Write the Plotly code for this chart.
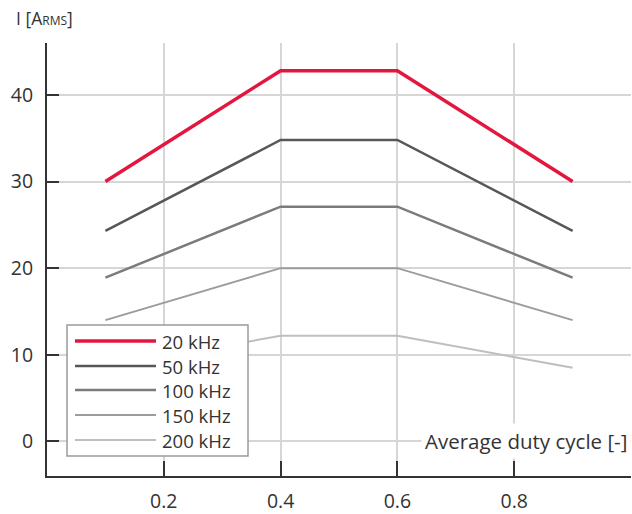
import plotly.graph_objects as go

duty = [0.1, 0.4, 0.6, 0.9]
series_names = ["20 kHz", "50 kHz", "100 kHz", "150 kHz", "200 kHz"]
i_20k = [30.0, 42.8, 42.8, 30.0]
i_50k = [24.3, 34.8, 34.8, 24.3]
i_100k = [18.9, 27.1, 27.1, 18.9]
i_150k = [14.0, 20.0, 20.0, 14.0]
i_200k = [8.5, 12.2, 12.2, 8.5]
series_values = [i_20k, i_50k, i_100k, i_150k, i_200k]
x_ticks = [0.2, 0.4, 0.6, 0.8]
y_ticks = [0, 10, 20, 30, 40]

colors = ["#e3173e", "#575757", "#7b7b7b", "#9c9c9c", "#bebebe"]
widths = [3.5, 2.5, 2.5, 2.0, 2.0]
FONT = "Open Sans"
TXT = "#333333"

W, H = 632, 514
ML, MR, MT, MB = 47, 1, 43, 38
PW, PH = W - ML - MR, H - MT - MB

def px_x(p):
    return (p - ML) / PW

def px_y(p):
    return (H - MB - p) / PH

fig = go.Figure()
for name, vals, c, w in zip(series_names, series_values, colors, widths):
    fig.add_trace(go.Scatter(x=duty, y=vals, mode="lines", name=name,
                             line=dict(color=c, width=w), showlegend=False))

shapes = []
annotations = []
# legend box
shapes.append(dict(type="rect", xref="paper", yref="paper",
                   x0=px_x(67), x1=px_x(248), y0=px_y(456), y1=px_y(325),
                   line=dict(color="#9a9a9a", width=1.5), fillcolor="white", layer="above"))
row_y = [341, 366, 390, 415, 440]
for name, c, w, ry in zip(series_names, colors, widths, row_y):
    shapes.append(dict(type="line", xref="paper", yref="paper",
                       x0=px_x(75), x1=px_x(156), y0=px_y(ry), y1=px_y(ry),
                       line=dict(color=c, width=w), layer="above"))
    annotations.append(dict(xref="paper", yref="paper", x=px_x(160), y=px_y(ry),
                            xanchor="left", yanchor="middle", text=name, showarrow=False,
                            font=dict(family=FONT, size=18.5, color=TXT)))

annotations.append(dict(xref="paper", yref="y", x=1.0, y=0, xanchor="right", yanchor="middle",
                        text="Average duty cycle [-]", showarrow=False, bgcolor="white",
                        borderpad=3, font=dict(family=FONT, size=20.5, color=TXT)))
annotations.append(dict(xref="paper", yref="paper", x=px_x(14), y=px_y(18), xanchor="left",
                        yanchor="middle",
                        text="I [A<span style='font-size:12px'>RMS</span>]",
                        showarrow=False, font=dict(family=FONT, size=17.5, color=TXT)))

fig.update_layout(
    width=W, height=H, margin=dict(l=ML, r=MR, t=MT, b=MB),
    paper_bgcolor="white", plot_bgcolor="white",
    font=dict(family=FONT, size=19.5, color=TXT),
    shapes=shapes, annotations=annotations,
    xaxis=dict(range=[0, 1], tickvals=x_ticks, ticktext=[f"{v:.1f}" for v in x_ticks],
               showgrid=True, gridcolor="#d6d6d6", gridwidth=1.5, zeroline=False,
               showline=True, linecolor="#333333", linewidth=2,
               ticks="inside", ticklen=15, tickwidth=2, tickcolor="#333333",
               ticklabelstandoff=7, tickfont=dict(size=19.5)),
    yaxis=dict(range=[-4, 46], tickvals=y_ticks, showgrid=True, gridcolor="#d6d6d6",
               gridwidth=1.5, zeroline=False, showline=True, linecolor="#333333", linewidth=2,
               ticks="inside", ticklen=12, tickwidth=2, tickcolor="#333333",
               ticklabelstandoff=8, tickfont=dict(size=19.5)),
)
fig.write_html("out.html")
